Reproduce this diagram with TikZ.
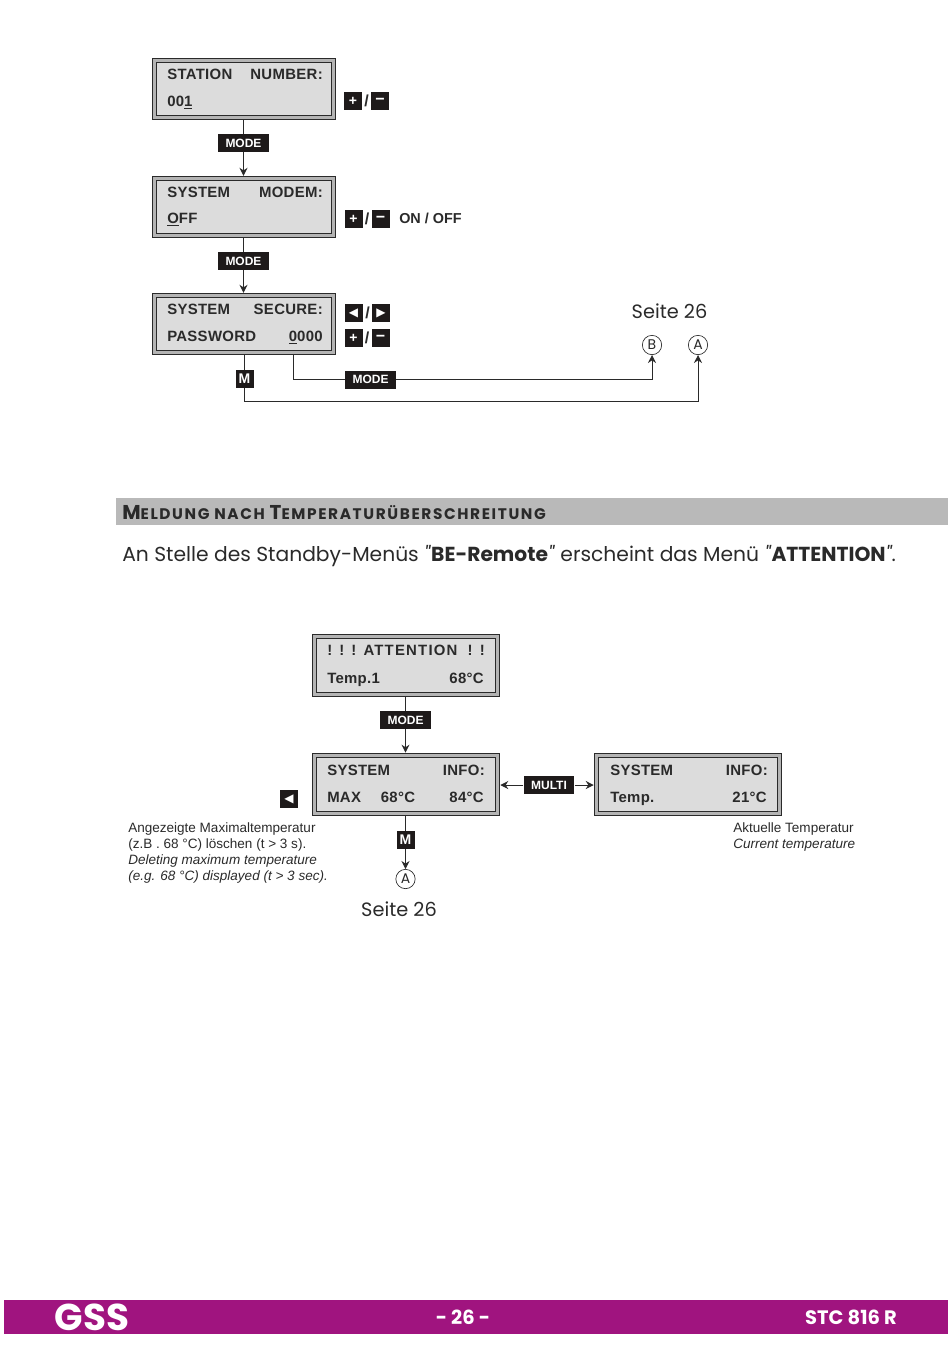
\documentclass[tikz,border=0pt]{standalone}
\usepackage{fontspec}
\usepackage{tikz}
\usetikzlibrary{arrows.meta}
\setmainfont{Liberation Sans}
\newfontfamily\lcdfont[LetterSpace=2]{Liberation Sans}
\newfontfamily\lcdwidefont[LetterSpace=8]{Liberation Sans}
\newfontfamily\geofont{Poppins}
\newfontfamily\headfont[LetterSpace=10.5]{Poppins}
\newfontfamily\symfont{DejaVu Sans}
\definecolor{lcdgrey}{HTML}{DCDCDC}
\definecolor{rimgrey}{HTML}{B4B4B4}
\definecolor{inkgrey}{HTML}{2A2A2A}
\definecolor{keyblack}{HTML}{1E1A1A}
\definecolor{bandgrey}{HTML}{B9B9B9}
\definecolor{footviolet}{HTML}{A0147F}
\newcommand{\pluskey}{\raisebox{-.7pt}{+}}
\newcommand{\minuskey}{\raisebox{-2.2pt}{\fontsize{12}{12}\selectfont −}}
\tikzset{
  lcd/.style={draw=inkgrey, line width=.8pt, double=rimgrey, double distance=2.2pt, fill=lcdgrey, inner sep=0pt, outer sep=1.9pt, minimum width=134.25pt, minimum height=43pt},
  lcdwide/.style={lcd, minimum width=137.6pt, minimum height=44pt},
  lcdtext/.style={inner sep=0pt, text=inkgrey, font=\lcdfont\bfseries\fontsize{11.2}{13}\selectfont},
  key/.style={fill=keyblack, text=white, inner sep=0pt, minimum width=13.5pt, minimum height=13.5pt, font=\bfseries\fontsize{10.5}{12}\selectfont},
  modekey/.style={key, minimum width=38pt, font=\bfseries\fontsize{9}{10}\selectfont},
  slashmark/.style={inner sep=0pt, text=inkgrey, font=\bfseries\fontsize{12}{13}\selectfont},
  jump/.style={draw=inkgrey, circle, line width=.5pt, fill=white, inner sep=0pt, minimum size=14.5pt, text=inkgrey, font=\geofont\fontsize{10.5}{12}\selectfont},
  seite/.style={inner sep=0pt, text=inkgrey, font=\geofont\fontsize{14.5}{16}\selectfont},
  note/.style={inner sep=0pt, anchor=base west, text=inkgrey, font=\fontsize{10.15}{12}\selectfont},
  wire/.style={draw=inkgrey, line width=.75pt},
  arrowwire/.style={wire, -{Stealth[length=6pt, width=6pt]}},
  foottext/.style={inner sep=0pt, text=white, font=\geofont\bfseries\fontsize{14.6}{16}\selectfont}
}
\begin{document}
\begin{tikzpicture}[x=.75pt, y=-.75pt]
  \useasboundingbox (0,0) rectangle (950,1357);

  \node[lcd] (stationbox) at (244,89) {};
  \node[lcd] (modembox) at (244,207) {};
  \node[lcd] (securebox) at (244,324) {};
  \node[lcdtext, anchor=base west] (stationa) at (167,79) {STATION};
  \node[lcdtext, anchor=base east] (stationb) at (323,79) {NUMBER:};
  \node[lcdtext, anchor=base west] (stationc) at (167,106) {00\underline{1}};
  \node[lcdtext, anchor=base west] (modema) at (167,197) {SYSTEM};
  \node[lcdtext, anchor=base east] (modemb) at (323,197) {MODEM:};
  \node[lcdtext, anchor=base west] (modemc) at (167,223) {\underline{O}FF};
  \node[lcdtext, anchor=base west] (securea) at (167,314) {SYSTEM};
  \node[lcdtext, anchor=base east] (secureb) at (323,314) {SECURE:};
  \node[lcdtext, anchor=base west] (securec) at (167,341) {PASSWORD};
  \node[lcdtext, anchor=base east] (secured) at (323,341) {\underline{0}000};

  \node[key] (plusa) at (353,101) {\pluskey};
  \node[slashmark] (slasha) at (366.5,101) {/};
  \node[key] (minusa) at (380,101) {\minuskey};
  \node[key] (plusb) at (353.5,219) {\pluskey};
  \node[slashmark] (slashb) at (367,219) {/};
  \node[key] (minusb) at (380.5,219) {\minuskey};
  \node[note, font=\bfseries\fontsize{10.8}{12}\selectfont, anchor=base west] (onoff) at (399,223) {ON / OFF};
  \node[key, font=\symfont\fontsize{9}{10}\selectfont] (lefta) at (353.5,313) {◀};
  \node[slashmark] (slashc) at (367.5,313) {/};
  \node[key, font=\symfont\fontsize{9}{10}\selectfont] (righta) at (381,313) {▶};
  \node[key] (plusc) at (353.5,338) {\pluskey};
  \node[slashmark] (slashd) at (367,338) {/};
  \node[key] (minusc) at (380.5,338) {\minuskey};

  \node[modekey] (modekeya) at (243.5,143) {MODE};
  \node[modekey] (modekeyb) at (243.5,261) {MODE};
  \node[modekey] (modekeyc) at (370.5,379.5) {MODE};
  \node[key] (mkeya) at (244.5,379) {M};
  \node[seite] (seitea) at (669.5,311) {Seite 26};
  \node[jump] (jumpb) at (652,345) {B};
  \node[jump] (jumpa) at (698,345) {A};
  \coordinate (modecorner) at (293,379);
  \coordinate (mcorner) at (244.5,401);
  \draw[wire] (stationbox.south -| modekeya) -- (modekeya);
  \draw[arrowwire] (modekeya) -- (modembox.north -| modekeya);
  \draw[wire] (modembox.south -| modekeyb) -- (modekeyb);
  \draw[arrowwire] (modekeyb) -- (securebox.north -| modekeyb);
  \draw[wire] (securebox.south -| mkeya) -- (mkeya);
  \draw[wire] (securebox.south -| modecorner) -- (modecorner) -- (modecorner -| modekeyc.west);
  \draw[arrowwire] (modecorner -| modekeyc.east) -- (modecorner -| jumpb) -- (jumpb);
  \draw[arrowwire] (mkeya) -- (mcorner) -- (mcorner -| jumpa) -- (jumpa);

  \fill[bandgrey] (116,498) rectangle (948,525);
  \node[inner sep=0pt, anchor=base west, text=inkgrey, font=\headfont\bfseries\fontsize{11.5}{14}\selectfont] (headline) at (122,519) {{\fontsize{15}{16}\selectfont M}ELDUNG NACH {\fontsize{15}{16}\selectfont T}EMPERATURÜBERSCHREITUNG};
  \node[inner sep=0pt, anchor=base west, text=inkgrey, font=\geofont\fontsize{15.2}{18}\selectfont] (intro) at (122,561) {An Stelle des Standby-Menüs \textit{"}\textbf{BE-Remote}\textit{"} erscheint das Menü \textit{"}\textbf{ATTENTION}\textit{"}.};

  \node[lcdwide] (attentionbox) at (406,665.5) {};
  \node[lcdwide] (maxbox) at (406,784.5) {};
  \node[lcdwide] (tempbox) at (688,784.5) {};
  \node[lcdtext, anchor=base west, font=\lcdwidefont\bfseries\fontsize{11.2}{13}\selectfont] (attentiona) at (327,655) {! ! !};
  \node[lcdtext, anchor=base, font=\lcdwidefont\bfseries\fontsize{11.2}{13}\selectfont] (attentionb) at (410.5,655) {ATTENTION};
  \node[lcdtext, anchor=base east, font=\lcdwidefont\bfseries\fontsize{11.2}{13}\selectfont] (attentionc) at (485,655) {! !};
  \node[lcdtext, anchor=base west] (attentiond) at (327,683) {Temp.1};
  \node[lcdtext, anchor=base east] (attentione) at (484,683) {68°C};
  \node[lcdtext, anchor=base west] (maxa) at (327,775) {SYSTEM};
  \node[lcdtext, anchor=base east] (maxb) at (485,775) {INFO:};
  \node[lcdtext, anchor=base west] (maxc) at (327,802) {MAX};
  \node[lcdtext, anchor=base] (maxd) at (398,802) {68°C};
  \node[lcdtext, anchor=base east] (maxe) at (484,802) {84°C};
  \node[lcdtext, anchor=base west] (tempa) at (610,775) {SYSTEM};
  \node[lcdtext, anchor=base east] (tempb) at (768,775) {INFO:};
  \node[lcdtext, anchor=base west] (tempc) at (610,802) {Temp.};
  \node[lcdtext, anchor=base east] (tempd) at (767,802) {21°C};

  \node[modekey] (modekeyd) at (405.5,720) {MODE};
  \node[modekey] (multikey) at (549,785) {MULTI};
  \node[key] (mkeyb) at (405.5,840) {M};
  \node[key, font=\symfont\fontsize{9}{10}\selectfont] (leftb) at (289,799) {◀};
  \node[jump] (jumpc) at (405.5,879) {A};
  \node[seite] (seiteb) at (399,909) {Seite 26};
  \draw[wire] (attentionbox.south -| modekeyd) -- (modekeyd);
  \draw[arrowwire] (modekeyd) -- (maxbox.north -| modekeyd);
  \draw[arrowwire] (multikey) -- (multikey -| maxbox.east);
  \draw[arrowwire] (multikey) -- (multikey -| tempbox.west);
  \draw[wire] (maxbox.south -| mkeyb) -- (mkeyb);
  \draw[arrowwire] (mkeyb) -- (jumpc);

  \node[note] (notea) at (128,832) {Angezeigte Maximaltemperatur};
  \node[note] (noteb) at (128,848) {(z.B . 68 °C) löschen (t > 3 s).};
  \node[note] (notec) at (128,864) {\itshape Deleting maximum temperature};
  \node[note] (noted) at (128,880) {\itshape (e.g. 68 °C) displayed (t > 3 sec).};
  \node[note] (notee) at (733,832) {Aktuelle Temperatur};
  \node[note] (notef) at (733,848) {\itshape Current temperature};

  \fill[footviolet] (4,1300) rectangle (948,1334);
  \node[foottext, font=\geofont\bfseries\fontsize{28}{30}\selectfont] (footgss) at (92,1317) {GSS};
  \node[foottext] (footpage) at (463,1317) {- 26 -};
  \node[foottext] (foottype) at (851,1317) {STC 816 R};
\end{tikzpicture}
\end{document}
